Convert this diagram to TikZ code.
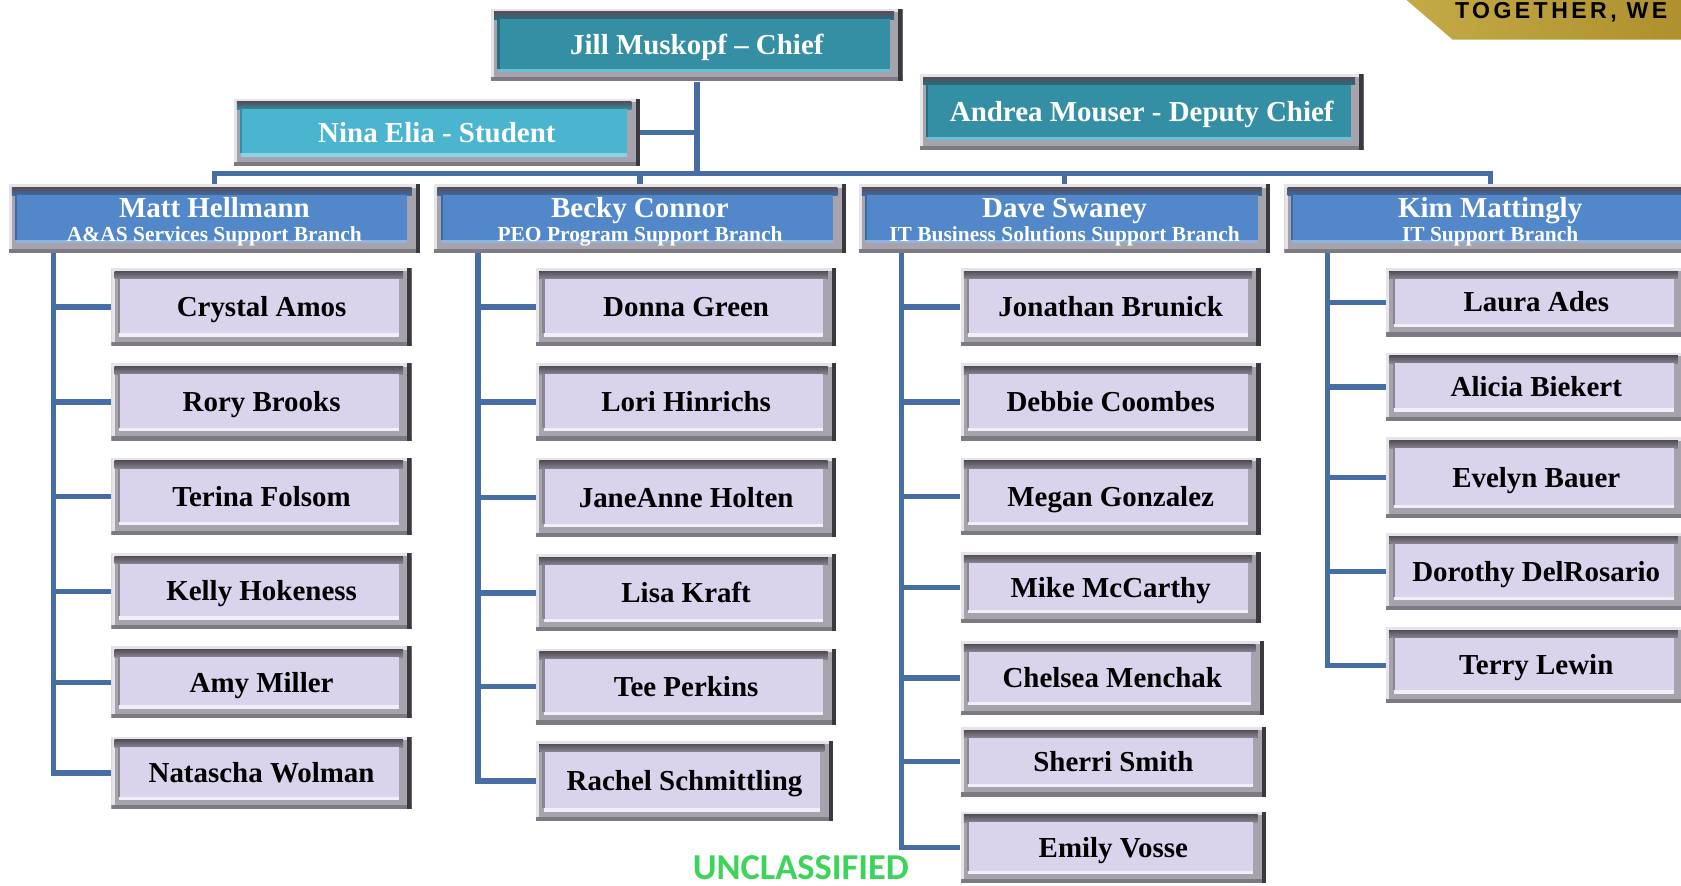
\documentclass[tikz,border=0pt]{standalone}
\usepackage{fontspec}
\setmainfont{Liberation Serif}
\newfontfamily\greenfont{Carlito}
\newfontfamily\bannerfont[LetterSpace=15]{Liberation Sans}
\usetikzlibrary{calc}
\definecolor{frlight}{HTML}{E6E4E8}
\definecolor{frmid}{HTML}{A7A3AD}
\definecolor{frlow}{HTML}{7E7A84}
\definecolor{frdark}{HTML}{3C3840}
\definecolor{frband}{HTML}{55505A}
\definecolor{lavin}{HTML}{DAD3EC}
\definecolor{lavdk}{HTML}{8A8592}
\definecolor{lavhi}{HTML}{F2EEF8}
\definecolor{bluin}{HTML}{5288CA}
\definecolor{bludk}{HTML}{3B6AA6}
\definecolor{bluhi}{HTML}{8FB4E0}
\definecolor{tealin}{HTML}{348FA5}
\definecolor{tealdk}{HTML}{246E80}
\definecolor{tealhi}{HTML}{6CC0D5}
\definecolor{cyanin}{HTML}{4BB4CF}
\definecolor{cyandk}{HTML}{2F8FA8}
\definecolor{cyanhi}{HTML}{8AD3E6}
\definecolor{connc}{RGB}{70,110,165}
\definecolor{goldl}{HTML}{C4AA46}
\definecolor{goldd}{HTML}{AE902E}
\definecolor{uncl}{RGB}{60,212,90}
\newcommand\nmfont{\bfseries\fontsize{27}{30}\selectfont}
\newcommand\sbfont{\bfseries\fontsize{20}{23}\selectfont}
\newcommand\brname[1]{{\nmfont\rule{0pt}{24.3pt}#1}}
\tikzset{
  bevel/.style n args={4}{rectangle, inner sep=0pt, text=#4,
    path picture={
      \coordinate (bnw) at (path picture bounding box.north west);
      \coordinate (bse) at (path picture bounding box.south east);
      \coordinate (bne) at (path picture bounding box.north east);
      \coordinate (bsw) at (path picture bounding box.south west);
      \fill[frmid] (bnw) rectangle (bse);
      \fill[frlight] (bnw) rectangle ($(bsw)+(3,0)$);
      \fill[frlight] (bnw) rectangle ($(bne)+(0,3)$);
      \fill[frlow] ($(bsw)+(0,-4)$) rectangle (bse);
      \fill[frdark] ($(bne)+(-4,0)$) rectangle (bse);
      \fill[top color=frband, bottom color=#2] ($(bnw)+(3,3)$) rectangle ($(bne)+(-8,10)$);
      \fill[#1] ($(bnw)+(7,10)$) rectangle ($(bse)+(-12,-12)$);
      \fill[#3] ($(bsw)+(7,-12)$) rectangle ($(bse)+(-12,-9)$);
      \fill[#2] ($(bnw)+(6,10)$) rectangle ($(bsw)+(8,-12)$);
    }},
  member/.style={bevel={lavin}{lavdk}{lavhi}{black}, font=\nmfont, text height=18pt, text depth=0pt},
  branch/.style={bevel={bluin}{bludk}{bluhi}{white}, minimum width=384, minimum height=64, align=center, font=\sbfont},
  chief/.style={bevel={tealin}{tealdk}{tealhi}{white}, font=\nmfont, text height=18pt, text depth=0pt},
  student/.style={bevel={cyanin}{cyandk}{cyanhi}{white}, font=\nmfont, text height=18pt, text depth=0pt},
  conn/.style={draw=connc, line width=5pt, line join=miter},
}
\begin{document}
\begin{tikzpicture}[x=1pt,y=-1pt]
\useasboundingbox (0,0) rectangle (1568,825.6);
\fill[white] (0,0) rectangle (1568,825.6);
\clip (0,0) rectangle (1568,825.6);

% banner
\shade[left color=goldl, right color=goldd] (1312,0) -- (1570,0) -- (1570,37) -- (1355,37) -- cycle;
\node[anchor=base west, inner sep=0pt, font=\bannerfont\bfseries\fontsize{21.5}{21.5}\selectfont] (banner) at (1357,17.5) {TOGETHER, WE};

% top level
\node[chief, minimum width=384, minimum height=68] (jill) at (650,42) {Jill Muskopf – Chief};
\node[student, minimum width=379, minimum height=63] (nina) at (407.5,123.5) {Nina Elia - Student};
\node[chief, minimum width=414, minimum height=71] (andrea) at (1065,104.5) {Andrea Mouser - Deputy Chief};

% branches
\node[branch] (matt) at (200,204) {\brname{Matt Hellmann}\\A\&AS Services Support Branch};
\node[branch] (becky) at (597,204) {\brname{Becky Connor}\\PEO Program Support Branch};
\node[branch] (dave) at (993,204) {\brname{Dave Swaney}\\IT Business Solutions Support Branch};
\node[branch] (kim) at (1390,204) {\brname{Kim Mattingly}\\IT Support Branch};

\coordinate (bus) at (650,162);
\draw[conn] (jill.south) -- (bus);
\draw[conn] (nina.east) -- (nina.east -| jill.south);
\draw[conn] (matt.north) -- (matt.north |- bus) -- (kim.north |- bus) -- (kim.north);
\draw[conn] (becky.north) -- (becky.north |- bus);
\draw[conn] (dave.north) -- (dave.north |- bus);

% Matt column
\node[member, minimum width=280, minimum height=73] (crystal) at (244,286.5) {Crystal Amos};
\node[member, minimum width=280, minimum height=72] (rory) at (244,375) {Rory Brooks};
\node[member, minimum width=280, minimum height=72] (terina) at (244,463) {Terina Folsom};
\node[member, minimum width=280, minimum height=71] (kelly) at (244,551.5) {Kelly Hokeness};
\node[member, minimum width=280, minimum height=67] (amy) at (244,636.5) {Amy Miller};
\node[member, minimum width=280, minimum height=68] (natascha) at (244,721) {Natascha Wolman};
\coordinate (ms) at (50,236);
\draw[conn] (ms) |- (natascha.west);
\foreach \m in {crystal,rory,terina,kelly,amy} \draw[conn] (ms |- \m.west) -- (\m.west);

% Becky column
\node[member, minimum width=280, minimum height=73] (donna) at (640,286.5) {Donna Green};
\node[member, minimum width=280, minimum height=72] (lori) at (640,375) {Lori Hinrichs};
\node[member, minimum width=280, minimum height=74] (janeanne) at (640,464) {JaneAnne Holten};
\node[member, minimum width=280, minimum height=72] (lisa) at (640,553) {Lisa Kraft};
\node[member, minimum width=280, minimum height=71] (tee) at (640,640.5) {Tee Perkins};
\node[member, minimum width=277, minimum height=75] (rachel) at (638.5,728.5) {Rachel Schmittling};
\coordinate (bs) at (446,236);
\draw[conn] (bs) |- (rachel.west);
\foreach \m in {donna,lori,janeanne,lisa,tee} \draw[conn] (bs |- \m.west) -- (\m.west);

% Dave column
\node[member, minimum width=280, minimum height=73] (jonathan) at (1036,286.5) {Jonathan Brunick};
\node[member, minimum width=280, minimum height=72] (debbie) at (1036,375) {Debbie Coombes};
\node[member, minimum width=280, minimum height=72] (megan) at (1036,463) {Megan Gonzalez};
\node[member, minimum width=280, minimum height=66] (mike) at (1036,548) {Mike McCarthy};
\node[member, minimum width=283, minimum height=69] (chelsea) at (1037.5,632.5) {Chelsea Menchak};
\node[member, minimum width=285, minimum height=65] (sherri) at (1038.5,710.5) {Sherri Smith};
\node[member, minimum width=285, minimum height=67] (emily) at (1038.5,790.5) {Emily Vosse};
\coordinate (ds) at (841,236);
\draw[conn] (ds) |- (emily.west);
\foreach \m in {jonathan,debbie,megan,mike,chelsea,sherri} \draw[conn] (ds |- \m.west) -- (\m.west);

% Kim column
\node[member, minimum width=280, minimum height=64] (laura) at (1433,282) {Laura Ades};
\node[member, minimum width=280, minimum height=64] (alicia) at (1433,361) {Alicia Biekert};
\node[member, minimum width=280, minimum height=75] (evelyn) at (1433,445.5) {Evelyn Bauer};
\node[member, minimum width=280, minimum height=72] (dorothy) at (1433,533) {Dorothy DelRosario};
\node[member, minimum width=280, minimum height=71] (terry) at (1433,620.5) {Terry Lewin};
\coordinate (ks) at (1238,236);
\draw[conn] (ks) |- (terry.west);
\foreach \m in {laura,alicia,evelyn,dorothy} \draw[conn] (ks |- \m.west) -- (\m.west);

% footer
\node[anchor=base, inner sep=0pt, text=uncl, font=\greenfont\bfseries\fontsize{34}{34}\selectfont] (unclass) at (747,820) {UNCLASSIFIED};
\end{tikzpicture}
\end{document}
